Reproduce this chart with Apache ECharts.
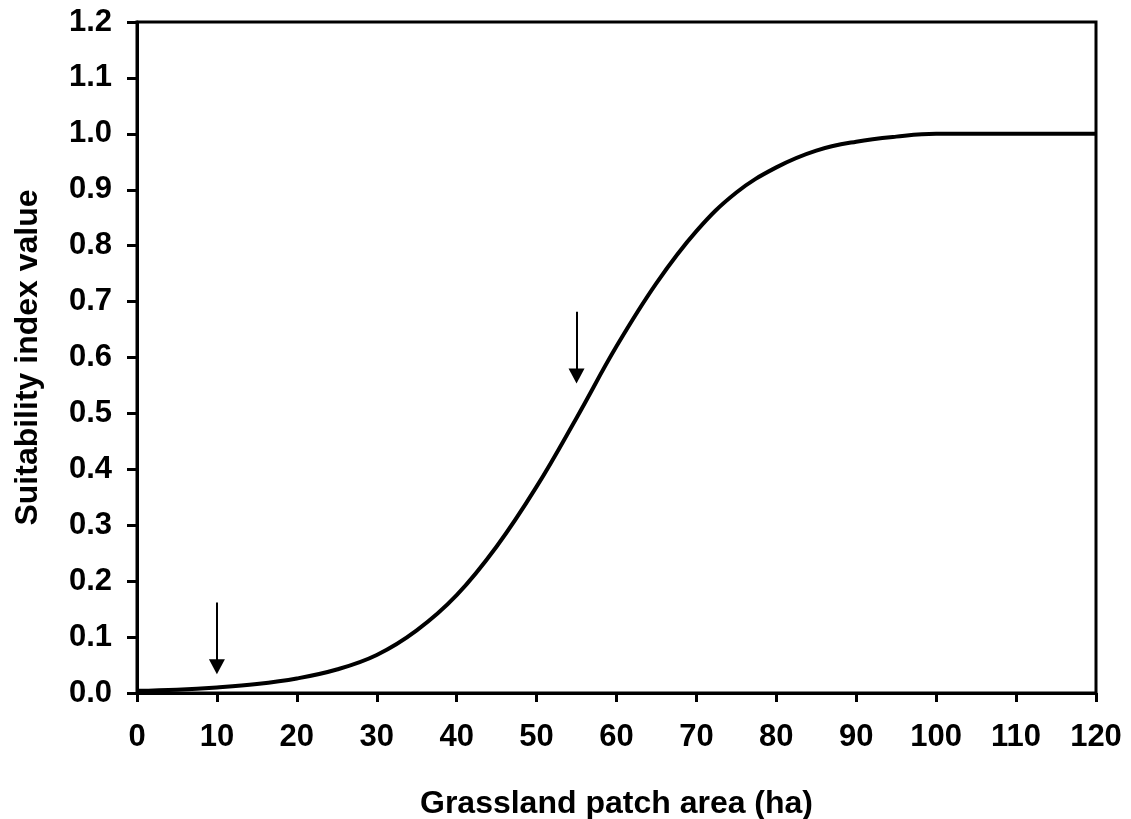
<!DOCTYPE html>
<html>
<head>
<meta charset="utf-8">
<script src="https://cdn.jsdelivr.net/npm/echarts@6/dist/echarts.min.js"></script>
<style>
  html, body { margin: 0; padding: 0; background: #fff; }
  #chart { width: 1131px; height: 819px; }
</style>
</head>
<body>
<div id="chart"></div>
<script>
// patch area (ha) and suitability index
var areaX = [0, 5, 10, 15, 20, 25, 30, 35, 40, 45, 50, 55, 60, 65, 70, 75, 80, 85, 90, 95, 100, 105, 110, 115, 120];
var suitY = [0.004, 0.006, 0.010, 0.016, 0.026, 0.042, 0.068, 0.112, 0.175, 0.262, 0.369, 0.492, 0.62, 0.733, 0.826, 0.895, 0.940, 0.970, 0.986, 0.995, 1.0, 1.0, 1.0, 1.0, 1.0];

// arrows: [x, top y, head y]
var arrowX = [10, 55];
var arrowTop = [0.162, 0.682];
var arrowHead = [0.047, 0.567];

var xTicks = [0, 10, 20, 30, 40, 50, 60, 70, 80, 90, 100, 110, 120];
var yTicks = [0, 0.1, 0.2, 0.3, 0.4, 0.5, 0.6, 0.7, 0.8, 0.9, 1.0, 1.1, 1.2];

var curveData = areaX.map(function (x, i) { return [x, suitY[i]]; });
var arrowLines = arrowX.map(function (x, i) {
  return [{ coord: [x, arrowTop[i]] }, { coord: [x, arrowHead[i]] }];
});

var myChart = echarts.init(document.getElementById('chart'));
var font = 'Liberation Sans, Arial, sans-serif';
var option = {
  animation: false,
  grid: {
    left: 137, right: 35, top: 22, bottom: 126,
    outerBoundsMode: 'none',
    show: true, borderColor: '#000', borderWidth: 3
  },
  xAxis: {
    type: 'value',
    min: xTicks[0], max: xTicks[xTicks.length - 1], interval: 10,
    name: 'Grassland patch area (ha)',
    nameLocation: 'middle',
    nameGap: 95,
    nameTextStyle: { fontFamily: font, fontWeight: 'bold', fontSize: 32, color: '#000' },
    axisLine: { lineStyle: { color: '#000', width: 3 } },
    axisTick: { show: true, length: 9, lineStyle: { color: '#000', width: 3 } },
    axisLabel: { margin: 29, fontFamily: font, fontWeight: 'bold', fontSize: 31, color: '#000' },
    splitLine: { show: false }
  },
  yAxis: {
    type: 'value',
    min: yTicks[0], max: yTicks[yTicks.length - 1], interval: 0.1,
    name: 'Suitability index value',
    nameLocation: 'middle',
    nameGap: 93,
    nameTextStyle: { fontFamily: font, fontWeight: 'bold', fontSize: 32, color: '#000' },
    axisLine: { lineStyle: { color: '#000', width: 3 } },
    axisTick: { show: true, length: 10, lineStyle: { color: '#000', width: 3 } },
    axisLabel: {
      margin: 25, fontFamily: font, fontWeight: 'bold', fontSize: 31, color: '#000',
      formatter: function (v) { return v.toFixed(1); }
    },
    splitLine: { show: false }
  },
  series: [
    {
      type: 'line',
      data: curveData,
      smooth: 0.4,
      showSymbol: false,
      lineStyle: { color: '#000', width: 4 },
      silent: true
    },
    {
      type: 'line',
      data: [],
      markLine: {
        silent: true,
        symbol: ['none', 'triangle'],
        symbolSize: [16, 15],
        label: { show: false },
        lineStyle: { color: '#000', width: 2, type: 'solid' },
        itemStyle: { color: '#000' },
        data: arrowLines
      }
    }
  ]
};
myChart.setOption(option);
</script>
</body>
</html>
